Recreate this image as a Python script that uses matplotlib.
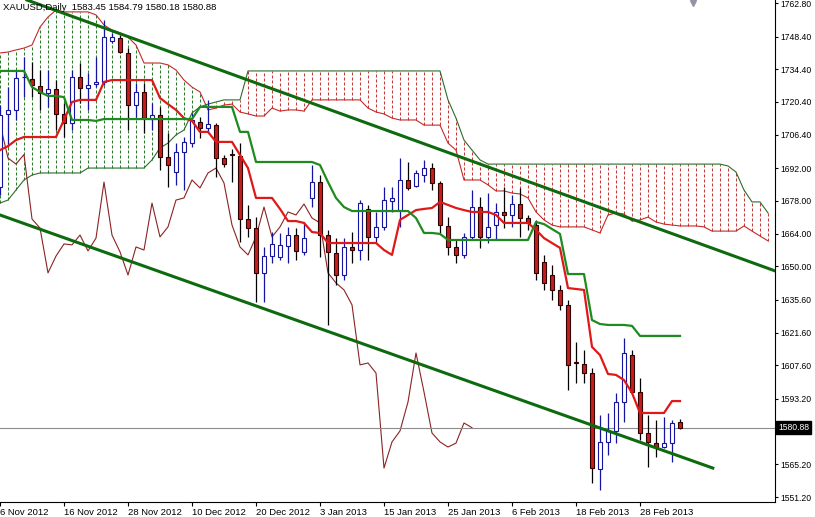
import matplotlib
matplotlib.use("Agg")
import matplotlib.pyplot as plt
import matplotlib.transforms as mtransforms
import numpy as np

plt.rcParams["font.family"] = ["Liberation Sans", "DejaVu Sans"]

title = "XAUUSD,Daily  1583.45 1584.79 1580.18 1580.88"
date_labels = ["6 Nov 2012", "16 Nov 2012", "28 Nov 2012", "10 Dec 2012", "20 Dec 2012",
               "3 Jan 2013", "15 Jan 2013", "25 Jan 2013", "6 Feb 2013", "18 Feb 2013",
               "28 Feb 2013"]
date_bars = [0, 8, 16, 24, 32, 40, 48, 56, 64, 72, 80]
price_ticks = [1551.20, 1565.20, 1579.20, 1593.20, 1607.60, 1621.60, 1635.60, 1650.00,
               1664.00, 1678.00, 1692.00, 1706.40, 1720.40, 1734.40, 1748.40, 1762.80]
last_price = 1580.88

# daily candles, bar 0 = 6 Nov 2012
opens = [1684.0, 1715.3, 1717.0, 1730.9, 1730.3, 1727.3, 1724.3, 1726.0, 1715.3, 1711.4,
         1731.1, 1726.4, 1728.1, 1729.0, 1746.5, 1747.8, 1741.4, 1719.1, 1724.7, 1713.1,
         1714.8, 1696.8, 1690.4, 1699.0, 1702.8, 1711.8, 1709.3, 1710.6, 1696.4, 1698.3,
         1697.3, 1670.3, 1666.4, 1647.2, 1654.4, 1654.0, 1658.7, 1663.4, 1656.2, 1679.3,
         1686.1, 1663.4, 1655.7, 1646.3, 1658.3, 1657.0, 1674.6, 1662.6, 1666.9, 1678.0,
         1674.1, 1687.0, 1684.4, 1689.1, 1692.1, 1685.7, 1667.3, 1658.3, 1654.9, 1662.6,
         1675.4, 1662.6, 1667.7, 1673.3, 1672.0, 1676.7, 1670.7, 1667.7, 1651.9, 1646.3,
         1639.9, 1633.5, 1609.0, 1608.2, 1604.3, 1563.2, 1574.8, 1579.5, 1591.9, 1612.0,
         1596.2, 1578.6, 1574.3, 1572.6, 1574.3, 1583.45]
highs = [1719.1, 1726.8, 1734.1, 1739.7, 1737.5, 1734.1, 1734.1, 1729.8, 1720.0, 1734.1,
         1737.1, 1732.8, 1739.7, 1755.5, 1750.0, 1749.1, 1743.5, 1728.5, 1728.5, 1720.0,
         1718.3, 1707.1, 1702.8, 1705.4, 1715.7, 1714.0, 1721.3, 1711.4, 1697.7, 1700.3,
         1702.8, 1676.3, 1671.1, 1658.3, 1664.7, 1664.3, 1666.9, 1666.4, 1669.0, 1693.4,
         1689.1, 1665.6, 1662.1, 1662.1, 1664.7, 1678.4, 1676.3, 1673.3, 1684.0, 1684.0,
         1696.4, 1694.7, 1691.3, 1695.6, 1694.3, 1686.6, 1671.1, 1661.3, 1664.3, 1682.7,
         1679.7, 1681.4, 1677.1, 1684.0, 1680.6, 1683.6, 1672.0, 1669.9, 1654.9, 1650.6,
         1642.0, 1635.6, 1617.6, 1614.2, 1606.5, 1586.3, 1587.2, 1595.8, 1619.3, 1614.2,
         1602.2, 1586.3, 1584.2, 1585.5, 1584.2, 1584.79]
lows = [1680.6, 1701.1, 1712.7, 1722.5, 1722.5, 1717.0, 1718.3, 1708.4, 1705.4, 1708.4,
        1720.0, 1717.0, 1726.8, 1727.7, 1745.7, 1741.4, 1708.4, 1714.0, 1707.1, 1708.4,
        1691.3, 1684.0, 1684.9, 1682.7, 1701.1, 1705.0, 1707.6, 1688.3, 1692.6, 1686.1,
        1660.4, 1662.6, 1634.7, 1634.7, 1651.4, 1652.7, 1651.4, 1652.7, 1654.9, 1675.4,
        1654.0, 1624.9, 1642.0, 1644.2, 1651.4, 1652.7, 1652.7, 1660.0, 1665.6, 1673.3,
        1666.9, 1682.7, 1684.0, 1686.1, 1682.7, 1664.3, 1654.9, 1651.4, 1653.6, 1661.3,
        1657.9, 1660.0, 1661.3, 1666.4, 1666.9, 1662.6, 1665.6, 1644.2, 1639.9, 1635.6,
        1631.3, 1597.0, 1600.0, 1600.0, 1557.2, 1554.2, 1569.2, 1574.3, 1583.3, 1595.8,
        1575.6, 1564.1, 1568.3, 1572.2, 1566.2, 1580.18]
closes = [1714.8, 1717.0, 1730.7, 1731.1, 1727.7, 1724.3, 1726.0, 1715.3, 1711.4, 1731.1,
          1726.4, 1727.7, 1729.0, 1748.2, 1748.2, 1741.8, 1719.1, 1724.7, 1713.5, 1714.8,
          1696.8, 1693.4, 1699.0, 1703.3, 1712.7, 1709.3, 1711.0, 1696.4, 1693.8, 1697.9,
          1670.3, 1666.4, 1647.2, 1654.4, 1659.6, 1659.2, 1663.4, 1656.6, 1662.1, 1686.1,
          1663.4, 1656.2, 1646.3, 1658.3, 1657.0, 1677.1, 1662.6, 1666.9, 1678.4, 1679.3,
          1687.0, 1683.6, 1690.0, 1692.1, 1685.7, 1667.7, 1658.3, 1654.9, 1662.6, 1675.4,
          1662.6, 1666.9, 1673.3, 1672.0, 1676.7, 1670.7, 1668.6, 1647.2, 1642.9, 1639.9,
          1633.5, 1607.8, 1608.6, 1604.3, 1563.6, 1574.8, 1579.5, 1591.9, 1612.9, 1596.2,
          1578.6, 1574.8, 1572.6, 1574.3, 1582.9, 1580.88]

# ichimoku lines
tenkan = [1699.8, 1701.5, 1704.1, 1705.4, 1705.4, 1705.4, 1705.4, 1705.4, 1712.7, 1720.4,
          1721.3, 1721.3, 1721.3, 1729.0, 1729.8, 1729.8, 1729.8, 1729.8, 1729.8, 1729.8,
          1722.1, 1719.5, 1717.0, 1713.5, 1712.3, 1707.6, 1707.6, 1703.3, 1703.3, 1703.3,
          1697.7, 1692.1, 1679.3, 1679.3, 1679.3, 1674.6, 1669.4, 1669.4, 1668.6, 1664.7,
          1664.3, 1660.0, 1660.0, 1660.0, 1660.0, 1660.0, 1660.0, 1660.0, 1657.0, 1654.9,
          1669.9, 1672.0, 1674.1, 1674.6, 1675.0, 1677.6, 1676.3, 1675.0, 1674.1, 1673.3,
          1673.3, 1673.3, 1672.0, 1668.6, 1668.6, 1668.6, 1668.6, 1665.6, 1662.1, 1660.0,
          1657.9, 1640.7, 1640.3, 1639.9, 1615.5, 1612.0, 1603.9, 1603.5, 1601.3, 1595.8,
          1587.2, 1587.2, 1587.2, 1587.2, 1592.3, 1592.3]
kijun = [1733.7, 1733.7, 1733.7, 1733.7, 1726.8, 1724.7, 1723.0, 1723.0, 1722.5, 1712.7,
         1712.7, 1712.7, 1712.3, 1713.1, 1713.1, 1713.1, 1713.1, 1713.1, 1713.1, 1713.1,
         1713.1, 1713.1, 1713.1, 1713.1, 1713.1, 1718.3, 1718.3, 1718.3, 1718.3, 1718.3,
         1707.6, 1707.6, 1694.7, 1694.7, 1694.7, 1694.7, 1694.7, 1694.7, 1694.7, 1694.7,
         1693.4, 1686.1, 1679.3, 1675.4, 1673.7, 1673.7, 1673.7, 1673.7, 1673.7, 1673.7,
         1673.7, 1673.7, 1670.7, 1664.3, 1664.3, 1663.9, 1661.3, 1661.3, 1661.3, 1661.3,
         1661.3, 1661.3, 1661.3, 1661.3, 1661.3, 1661.3, 1661.3, 1669.0, 1668.1, 1666.0,
         1663.9, 1646.7, 1646.7, 1646.7, 1627.0, 1625.3, 1624.9, 1624.9, 1624.9, 1624.5,
         1620.2, 1620.2, 1620.2, 1620.2, 1620.2, 1620.2]
span_a = [1741.4, 1741.8, 1742.7, 1743.5, 1744.8, 1752.5, 1756.8, 1759.8, 1759.0, 1759.0,
          1759.0, 1759.0, 1757.7, 1753.4, 1751.2, 1750.0, 1748.2, 1744.8, 1737.1, 1737.1,
          1737.1, 1736.3, 1734.1, 1729.8, 1726.8, 1724.7, 1717.0, 1717.8, 1719.1, 1719.5,
          1716.1, 1715.3, 1714.4, 1714.4, 1717.8, 1716.5, 1717.0, 1717.0, 1716.5, 1721.3,
          1721.3, 1721.3, 1721.3, 1721.3, 1721.3, 1721.3, 1717.8, 1716.1, 1715.3, 1713.5,
          1712.7, 1712.7, 1712.7, 1710.5, 1710.5, 1710.5, 1702.8, 1699.8, 1687.0, 1687.0,
          1687.0, 1684.9, 1682.3, 1682.3, 1681.4, 1681.0, 1679.3, 1673.3, 1669.9, 1667.7,
          1666.9, 1666.9, 1666.9, 1666.9, 1665.6, 1664.3, 1672.0, 1672.9, 1672.4, 1669.4,
          1669.9, 1671.1, 1669.0, 1668.1, 1667.7, 1667.3, 1667.3, 1667.3, 1666.9, 1665.1,
          1665.1, 1665.1, 1665.1, 1667.3, 1665.1, 1663.0, 1660.9]
span_b = [1677.1, 1678.4, 1682.7, 1687.0, 1689.1, 1690.0, 1690.0, 1690.0, 1690.0, 1690.0,
          1690.0, 1692.1, 1692.1, 1692.1, 1692.1, 1692.1, 1692.1, 1692.1, 1692.1, 1695.6,
          1700.7, 1702.8, 1706.3, 1708.4, 1715.7, 1718.3, 1719.5, 1720.4, 1721.3, 1721.3,
          1721.3, 1733.7, 1733.7, 1733.7, 1733.7, 1733.7, 1733.7, 1733.7, 1733.7, 1733.7,
          1733.7, 1733.7, 1733.7, 1733.7, 1733.7, 1733.7, 1733.7, 1733.7, 1733.7, 1733.7,
          1733.7, 1733.7, 1733.7, 1733.7, 1733.7, 1733.7, 1721.3, 1713.5, 1704.1, 1699.8,
          1695.6, 1693.8, 1693.8, 1693.8, 1693.8, 1693.8, 1693.8, 1693.8, 1693.8, 1693.8,
          1693.8, 1693.8, 1693.8, 1693.8, 1693.8, 1693.8, 1693.8, 1693.8, 1693.8, 1693.8,
          1693.8, 1693.8, 1693.8, 1693.8, 1693.8, 1693.8, 1693.8, 1693.8, 1693.8, 1693.8,
          1693.8, 1693.0, 1690.4, 1682.7, 1677.6, 1677.6, 1672.9]

# hand drawn channel: (bar, price) anchors
upper_channel = [(14, 1750.9), (80, 1669.0)]
lower_channel_bars = [0, 89.1]
lower_channel_prices = [1672.0, 1563.6]

o, h, l, c = (np.array(v) for v in (opens, highs, lows, closes))
bars = np.arange(len(c))
sa, sb = np.array(span_a), np.array(span_b)
kx = np.arange(len(sa))

fig = plt.figure(figsize=(8.15, 5.17), dpi=100)
ax = fig.add_axes([0, 15 / 517, 775 / 815, 502 / 517])
ax.set_xlim(0, 96.875)
ax.set_ylim(1549.06, 1764.09)

# kumo as dotted histogram
dots = (0, (2.9, 1.9))
bull = sa >= sb
ax.vlines(kx[bull], sb[bull], sa[bull], colors="#2e7d2e", lw=0.75, linestyles=dots, zorder=1)
ax.vlines(kx[~bull], sa[~bull], sb[~bull], colors="#c43c3c", lw=0.75, linestyles=dots, zorder=1)
ax.plot(kx, sa, color="#c42a2a", lw=0.8, zorder=1.5)
ax.plot(kx, sb, color="#2a6e2a", lw=0.8, zorder=1.5)

# chikou span = close shifted back 26 bars
ax.plot(bars - 26, c, color="#8b2323", lw=0.8, zorder=2)

ax.axhline(last_price, color="#8c8c8c", lw=0.8, zorder=2)

# candles
up = c >= o
blue, red = "#1414a0", "#c41e1e"
body_lo = np.minimum(o, c)
body_h = np.maximum(np.abs(c - o), 0.25)
ax.vlines(bars[up], l[up], h[up], color=blue, lw=0.9, zorder=3)
ax.vlines(bars[~up], l[~up], h[~up], color="black", lw=0.9, zorder=3)
ax.bar(bars[up], body_h[up], bottom=body_lo[up], width=0.6, color="white",
       edgecolor=blue, lw=0.8, zorder=3.1)
ax.bar(bars[~up], body_h[~up], bottom=body_lo[~up], width=0.6, color=red,
       edgecolor="#300000", lw=0.8, zorder=3.1)

ax.plot(bars, tenkan, color="#e01818", lw=1.6, zorder=4)
ax.plot(bars, kijun, color="#1f8a1f", lw=1.6, zorder=4)

ax.axline(upper_channel[0], upper_channel[1], color="#0e6a0e", lw=2.2, zorder=5)
ax.plot(lower_channel_bars, lower_channel_prices, color="#0e6a0e", lw=2.2, zorder=5)

# axes styling
for side in ("left", "top"):
    ax.spines[side].set_visible(False)
for side in ("bottom", "right"):
    ax.spines[side].set_linewidth(0.8)
    ax.spines[side].set_color("black")

ax.set_xticks(date_bars)
ax.set_xticklabels(date_labels, ha="left")
shift = mtransforms.ScaledTranslation(2 / 100, 0, fig.dpi_scale_trans)
for lbl in ax.get_xticklabels():
    lbl.set_transform(lbl.get_transform() + shift)
ax.tick_params(axis="x", direction="out", length=3, width=0.8, pad=1.5, labelsize=6.8)

ax.yaxis.tick_right()
ax.set_yticks(price_ticks)
ax.set_yticklabels(["%.2f" % p for p in price_ticks])
ax.tick_params(axis="y", direction="out", length=2.2, width=0.8, pad=1.8, labelsize=6.2)

trans = mtransforms.blended_transform_factory(ax.transAxes, ax.transData)
ax.text(1.004, last_price, "%.2f" % last_price, transform=trans, ha="left", va="center",
        color="white", fontsize=6.2, clip_on=False, zorder=10,
        bbox=dict(boxstyle="square,pad=0.25", fc="black", ec="black"))

fig.text(3 / 815, 1 - 8 / 517, title, fontsize=6.8, va="center", ha="left")
ax.plot([0.894], [0.994], marker="v", ms=5, color="#9494a4", transform=ax.transAxes,
        clip_on=False, zorder=10)

fig.savefig("out.png", dpi=100)
